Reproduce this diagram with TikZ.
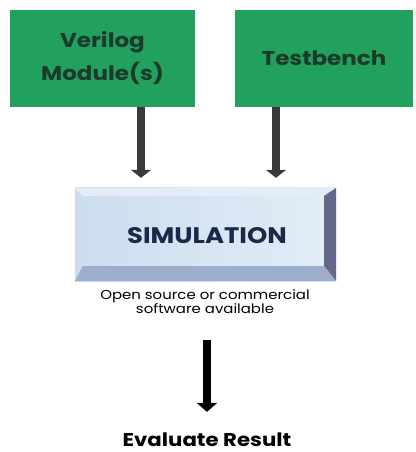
\documentclass[tikz,border=0pt]{standalone}
\usepackage{fontspec}
\setmainfont{Poppins}[FakeStretch=1.15]
\usetikzlibrary{arrows.meta,calc}
\definecolor{grn}{HTML}{22A05E}
\definecolor{grntext}{HTML}{1B3A2A}
\definecolor{simtext}{HTML}{1C2848}
\definecolor{facea}{HTML}{CCDDEE}
\definecolor{faceb}{HTML}{E2EDF7}
\definecolor{bevr}{HTML}{66668A}
\definecolor{bevb}{HTML}{9DADCC}
\definecolor{bevt}{HTML}{E4EDF7}
\definecolor{arrgray}{HTML}{3A3A3A}
\tikzset{
  greenbox/.style={fill=grn, draw=none, align=center, text=grntext,
    font=\bfseries\fontsize{20}{33}\selectfont},
  simbox/.style={draw=none, minimum width=261pt, minimum height=93pt, inner sep=0pt},
  fatarrow/.style={line width=8pt, draw=arrgray,
    -{Triangle[width=20pt,length=8pt,fill=arrgray]}},
  blackarrow/.style={line width=8pt, draw=black,
    -{Triangle[width=20pt,length=9pt,fill=black]}},
  smalltext/.style={align=center, font=\fontsize{13}{14}\selectfont},
  bigtext/.style={inner sep=0pt, font=\bfseries\fontsize{18.5}{20}\selectfont}
}
\begin{document}
\begin{tikzpicture}[x=1pt,y=-1pt]
\useasboundingbox[fill=white] (0,0) rectangle (415,452);
\node[greenbox, minimum width=185pt, minimum height=97pt] (ver) at (102.5,58.5) {Verilog\\Module(s)};
\node[greenbox, minimum width=178pt, minimum height=97pt] (tb) at (324,58.5) {Testbench};
\node[simbox] (sim) at (205.5,234.5) {};
% face
\shade[left color=facea, right color=faceb] (sim.north west) rectangle (sim.south east);
% top bevel
\fill[bevt] (sim.north west) -- (sim.north east) -- ($(sim.north east)+(-12,8)$) -- ($(sim.north west)+(8,8)$) -- cycle;
% right bevel
\fill[bevr] (sim.north east) -- (sim.south east) -- ($(sim.south east)+(-12,-15)$) -- ($(sim.north east)+(-12,8)$) -- cycle;
% bottom bevel
\fill[bevb] (sim.south west) -- (sim.south east) -- ($(sim.south east)+(-12,-15)$) -- ($(sim.south west)+(8,-15)$) -- cycle;
\node[text=simtext, font=\bfseries\fontsize{22.5}{24}\selectfont] (simlabel) at (207,236) {SIMULATION};
\node[smalltext] (cap) at (205,302) {Open source or commercial\\software available};
\node[bigtext] (eval) at (207,440) {Evaluate Result};
\coordinate (lx) at (141,0);
\coordinate (rx) at (276,0);
\draw[fatarrow] (ver.south -| lx) -- ($(sim.north -| lx)+(0,-10)$);
\draw[fatarrow] (tb.south -| rx) -- ($(sim.north -| rx)+(0,-10)$);
\draw[blackarrow, shorten <=22pt, shorten >=21pt] (cap.south -| eval.north) -- (eval.north);
\end{tikzpicture}
\end{document}
